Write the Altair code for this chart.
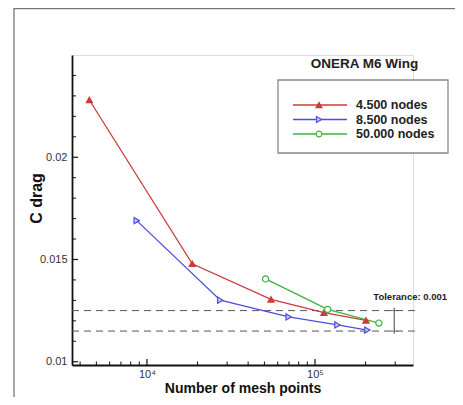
import altair as alt
import pandas as pd

FONT = "Liberation Sans"

series = ["4.500 nodes", "8.500 nodes", "50.000 nodes"]
line_colors = ["#cc3b3b", "#4d4de3", "#3cb23c"]
fill_colors = ["#cc3b3b", "#c9c9f4", "#ffffff"]
shapes = ["triangle-up", "triangle-right", "circle"]

mesh_4500 = [4540, 18600, 54700, 113000, 201000]
cd_4500 = [0.0228, 0.01479, 0.01305, 0.0124, 0.01202]
mesh_8500 = [8690, 27300, 69700, 136000, 205000]
cd_8500 = [0.0169, 0.01301, 0.01219, 0.0118, 0.01155]
mesh_50000 = [50800, 119000, 240000]
cd_50000 = [0.01405, 0.01256, 0.01189]

tolerance_levels = [0.0125, 0.0115]
tolerance_bar = [0.01264, 0.01137]
tolerance_x = [296000]
tolerance_text = ["Tolerance: 0.001"]
tolerance_text_y = [0.01316]

x_domain = [3580, 383000]
y_domain = [0.00984, 0.025]
x_major = [1e4, 1e5]
x_minor = [4000, 5000, 6000, 7000, 8000, 9000,
           20000, 30000, 40000, 50000, 60000, 70000, 80000, 90000,
           200000, 300000]
y_major = [0.01, 0.015, 0.02]
y_minor = [0.011, 0.012, 0.013, 0.014, 0.016, 0.017, 0.018, 0.019,
           0.021, 0.022, 0.023, 0.024]

W, H = 341, 310

rows = []
for s, xs, ys in [(series[0], mesh_4500, cd_4500),
                  (series[1], mesh_8500, cd_8500),
                  (series[2], mesh_50000, cd_50000)]:
    for i, (a, b) in enumerate(zip(xs, ys)):
        rows.append({"series": s, "mesh": a, "cd": b, "order": i})
df = pd.DataFrame(rows)

xs = alt.Scale(type="log", domain=x_domain, nice=False)
ys = alt.Scale(domain=y_domain, nice=False, zero=False)
stroke_scale = alt.Scale(domain=series, range=line_colors)
fill_scale = alt.Scale(domain=series, range=fill_colors)
shape_scale = alt.Scale(domain=series, range=shapes)

x_axis = alt.Axis(values=x_major, ticks=False, grid=False,
                  labelExpr="datum.value == 10000 ? '10\u2074' : '10\u2075'",
                  labelFont=FONT, labelFontSize=11, labelColor="#333",
                  labelPadding=3, title="Number of mesh points",
                  titleFont=FONT, titleFontSize=14, titleFontWeight="bold",
                  titleColor="#111", titlePadding=2,
                  domainColor="#111", domainWidth=1.8)
y_axis = alt.Axis(values=y_major, ticks=False, grid=False, format="~g",
                  labelFont=FONT, labelFontSize=11, labelColor="#333",
                  labelPadding=5, title="C drag",
                  titleFont=FONT, titleFontSize=16, titleFontWeight="bold",
                  titleColor="#111", titleAngle=270, titleAlign="center",
                  titleBaseline="middle", titleX=-36, titleY=143,
                  domainColor="#111", domainWidth=1.8)

base = alt.Chart(df)

lines = base.mark_line(strokeWidth=1.3).encode(
    x=alt.X("mesh:Q", scale=xs, axis=x_axis),
    y=alt.Y("cd:Q", scale=ys, axis=y_axis),
    stroke=alt.Stroke("series:N", scale=stroke_scale, legend=None),
    detail="series:N",
    order="order:Q",
)
points = base.mark_point(size=38, strokeWidth=1.2, opacity=1, fillOpacity=1).encode(
    x=alt.X("mesh:Q", scale=xs),
    y=alt.Y("cd:Q", scale=ys),
    stroke=alt.Stroke("series:N", scale=stroke_scale, legend=None),
    fill=alt.Fill("series:N", scale=fill_scale, legend=None),
    shape=alt.Shape("series:N", scale=shape_scale, legend=None),
)

tol_df = pd.DataFrame({"y": tolerance_levels})
tol_lines = alt.Chart(tol_df).mark_rule(color="#555", strokeWidth=1, strokeDash=[7, 5]).encode(
    y=alt.Y("y:Q", scale=ys), x=alt.value(0), x2=alt.value(W + 2))

bar_df = pd.DataFrame({"x": tolerance_x, "y1": [tolerance_bar[0]], "y2": [tolerance_bar[1]]})
tol_bar = alt.Chart(bar_df).mark_rule(color="#444", strokeWidth=1).encode(
    x=alt.X("x:Q", scale=xs), y=alt.Y("y1:Q", scale=ys), y2="y2:Q")
cap_df = pd.DataFrame({"x": tolerance_x * 2, "y": tolerance_levels})
tol_caps = alt.Chart(cap_df).mark_tick(color="#444", thickness=1, size=7, orient="horizontal").encode(
    x=alt.X("x:Q", scale=xs), y=alt.Y("y:Q", scale=ys))
txt_df = pd.DataFrame({"x": tolerance_x, "y": tolerance_text_y, "t": tolerance_text})
tol_text = alt.Chart(txt_df).mark_text(font=FONT, fontSize=9.5, fontWeight="bold",
                                       color="#222", dx=16, align="center",
                                       baseline="middle").encode(
    x=alt.X("x:Q", scale=xs), y=alt.Y("y:Q", scale=ys), text="t:N")

# inward ticks
xmaj = alt.Chart(pd.DataFrame({"v": x_major})).mark_rule(color="#111", strokeWidth=1.2).encode(
    x=alt.X("v:Q", scale=xs), y=alt.value(H), y2=alt.value(H - 6))
xmin = alt.Chart(pd.DataFrame({"v": x_minor})).mark_rule(color="#111", strokeWidth=1).encode(
    x=alt.X("v:Q", scale=xs), y=alt.value(H), y2=alt.value(H - 3.5))
ymaj = alt.Chart(pd.DataFrame({"v": y_major})).mark_rule(color="#111", strokeWidth=1.2).encode(
    y=alt.Y("v:Q", scale=ys), x=alt.value(0), x2=alt.value(6))
ymin = alt.Chart(pd.DataFrame({"v": y_minor})).mark_rule(color="#111", strokeWidth=1).encode(
    y=alt.Y("v:Q", scale=ys), x=alt.value(0), x2=alt.value(4))

# outer frame
frame_left = alt.Chart(pd.DataFrame({"k": [0]})).mark_rule(color="#777", strokeWidth=1.3).encode(
    x=alt.value(-58), y=alt.value(-47), y2=alt.value(H + 40))
frame_top = alt.Chart(pd.DataFrame({"k": [0]})).mark_rule(color="#777", strokeWidth=1.3).encode(
    y=alt.value(-46.5), x=alt.value(-58), x2=alt.value(W + 50))

main = alt.layer(frame_left, frame_top, tol_lines, tol_bar, tol_caps, tol_text,
                 lines, points, xmaj, xmin, ymaj, ymin)

# legend
leg_df = pd.DataFrame({"series": series})
leg_y = alt.Scale(type="point", domain=series, range=[50, 79], padding=0)
leg_box = alt.Chart(pd.DataFrame({"k": [0]})).mark_rect(fill="white", stroke="#888", strokeWidth=1.3).encode(
    x=alt.value(206), x2=alt.value(376), y=alt.value(25), y2=alt.value(98))
leg_rule = alt.Chart(leg_df).mark_rule(strokeWidth=1.3).encode(
    y=alt.Y("series:N", scale=leg_y, axis=None),
    x=alt.value(221), x2=alt.value(275),
    stroke=alt.Stroke("series:N", scale=stroke_scale, legend=None))
leg_pt = alt.Chart(leg_df).mark_point(size=34, strokeWidth=1.2, opacity=1, fillOpacity=1).encode(
    y=alt.Y("series:N", scale=leg_y, axis=None),
    x=alt.value(247),
    stroke=alt.Stroke("series:N", scale=stroke_scale, legend=None),
    fill=alt.Fill("series:N", scale=fill_scale, legend=None),
    shape=alt.Shape("series:N", scale=shape_scale, legend=None))
leg_txt = alt.Chart(leg_df).mark_text(font=FONT, fontSize=12.5, fontWeight="bold",
                                      color="#222", align="left", baseline="middle").encode(
    y=alt.Y("series:N", scale=leg_y, axis=None),
    x=alt.value(284), text="series:N")
legend = alt.layer(leg_box, leg_rule, leg_pt, leg_txt)

chart = alt.layer(main, legend).resolve_scale(y="independent").properties(
    width=W, height=H,
    title=alt.TitleParams("ONERA M6 Wing", font=FONT, fontSize=13.5, fontWeight="bold",
                          color="#222", anchor="middle", dx=122, baseline="middle",
                          offset=0, dy=70),
    autosize=alt.AutoSizeParams(type="none"),
    padding={"left": 64, "top": 47, "right": 42, "bottom": 32},
).configure_view(stroke=None).configure(background="white")

chart.save("out.html", embed_options={"renderer": "svg", "actions": False})
